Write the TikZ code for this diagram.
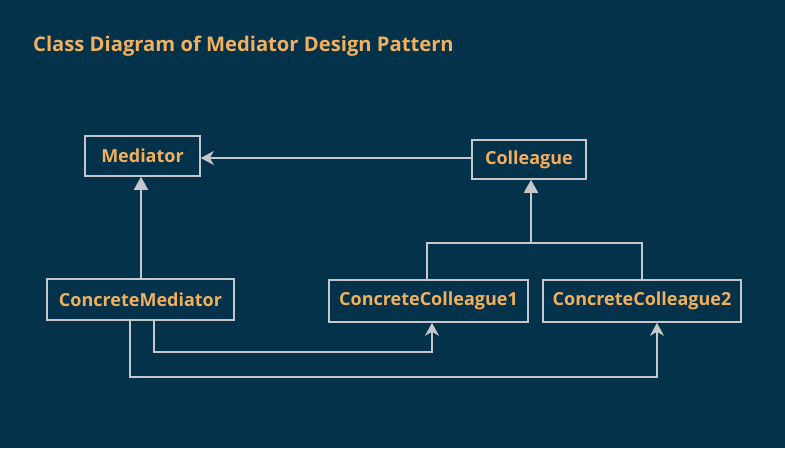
\documentclass[tikz,border=0pt]{standalone}
\usepackage{fontspec}
\setmainfont{Open Sans}
\usetikzlibrary{arrows.meta}
\definecolor{bg}{HTML}{04324A}
\definecolor{txt}{HTML}{F2B05E}
\definecolor{ln}{HTML}{C4C8CC}
\begin{document}
\begin{tikzpicture}[x=1pt,y=-1pt,
  cls/.style={draw=ln, line width=1.6pt, inner sep=0pt, text=txt, font=\bfseries\fontsize{18}{20}\selectfont},
  conn/.style={draw=ln, line width=1.6pt},
  gen/.style={conn, -{Triangle[width=14pt,length=13pt,fill=ln]}},
  assoc/.style={conn, -{Stealth[width=14pt,length=13pt,inset=4pt,fill=ln]}}]
\fill[bg] (0,0) rectangle (785,448);
\useasboundingbox (0,0) rectangle (785,448);
\node[anchor=west, inner sep=0pt, text=txt, font=\bfseries\fontsize{20.2}{22}\selectfont] (title) at (33,46) {Class Diagram of Mediator Design Pattern};
\node[cls, minimum width=115pt, minimum height=40pt] (med) at (142.5,156) {Mediator};
\node[cls, minimum width=114pt, minimum height=39pt] (col) at (529,159.5) {Colleague};
\node[cls, minimum width=187pt, minimum height=41pt] (cmed) at (140.5,299.5) {ConcreteMediator};
\node[cls, minimum width=199pt, minimum height=42pt] (cc1) at (428.5,301) {ConcreteColleague1};
\node[cls, minimum width=198pt, minimum height=42pt] (cc2) at (642,301) {ConcreteColleague2};
\coordinate (j) at (531,243);
\draw[assoc] (col.west |- 0,158) -- (med.east |- 0,158);
\draw[gen] (cmed.north -| 141,0) -- (med.south -| 141,0);
\draw[conn] (cc1.north -| 427,0) |- (j) -| (cc2.north -| 642,0);
\draw[gen] (j) -- (col.south -| j);
\draw[assoc] (cmed.south -| 154,0) |- (0,352 -| 432,0) -- (cc1.south -| 432,0);
\draw[assoc] (cmed.south -| 130,0) |- (0,377 -| 657,0) -- (cc2.south -| 657,0);
\end{tikzpicture}
\end{document}
